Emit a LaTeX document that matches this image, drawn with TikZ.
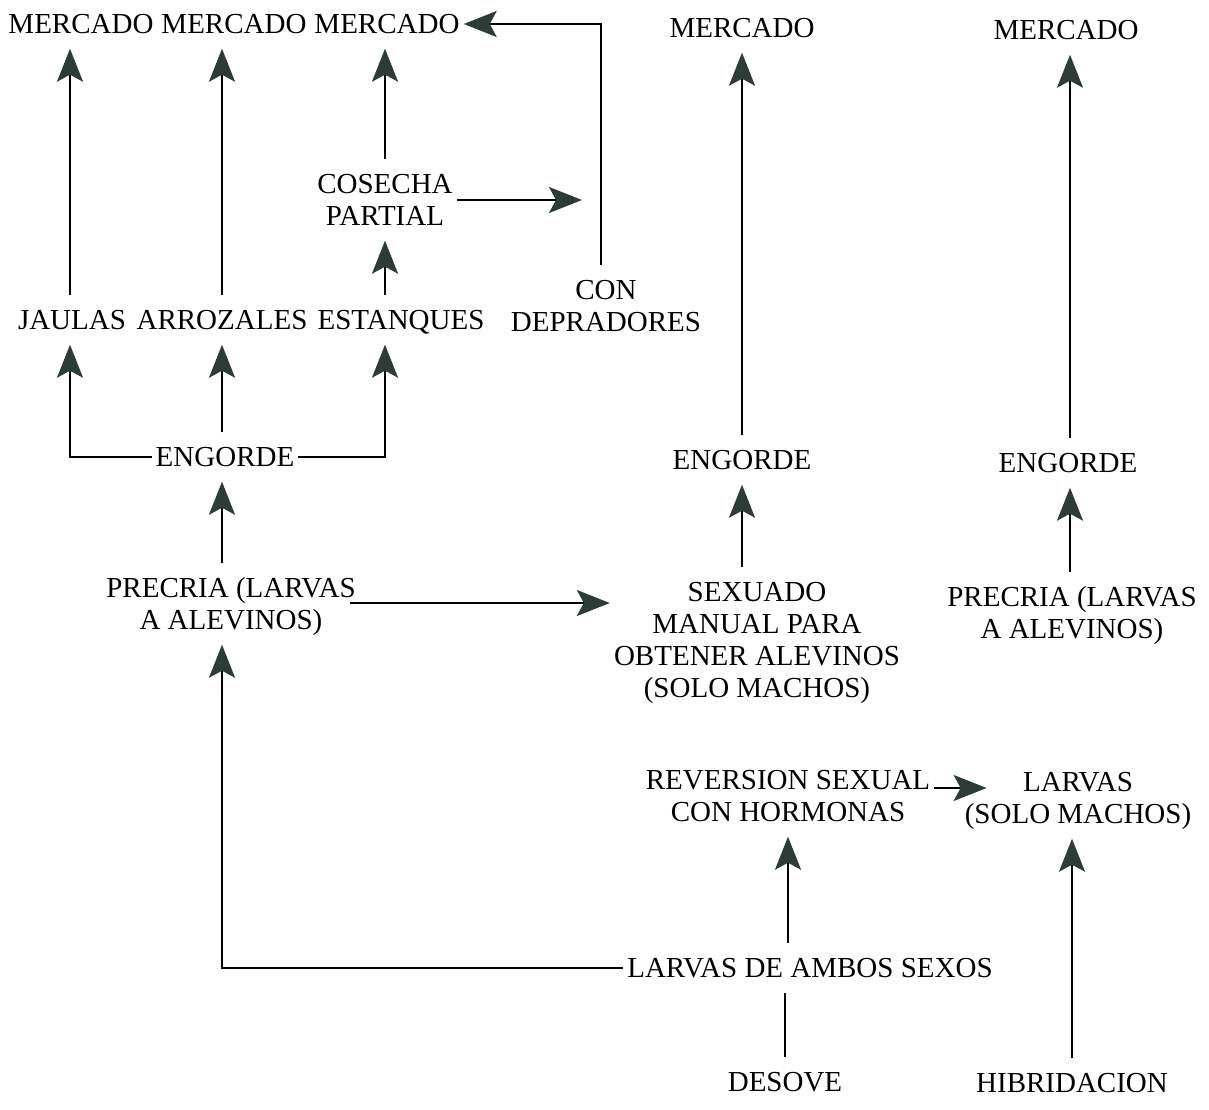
\documentclass[tikz,border=0pt]{standalone}
\usepackage{fontspec}
\setmainfont{Liberation Serif}
\usetikzlibrary{arrows.meta}
\definecolor{arrowc}{HTML}{2E3C37}
\begin{document}
\begin{tikzpicture}[x=1pt,y=-1pt,
  lbl/.style={font=\fontsize{29}{32}\selectfont, align=center, inner xsep=4pt, inner ysep=15pt, text height=19pt, text depth=0pt},
  two/.style={text height=51pt},
  four/.style={text height=115pt},
  conn/.style={line width=2.2pt, black},
  arr/.style={conn, -{Stealth[length=33pt,width=26pt,inset=7pt,fill=arrowc,color=arrowc]}}]
\useasboundingbox[fill=white] (0,0) rectangle (1209,1110);
% nodes
\node[lbl] (m1) at (81,24) {MERCADO};
\node[lbl] (m2) at (234,24) {MERCADO};
\node[lbl] (m3) at (387,24) {MERCADO};
\node[lbl] (m4) at (742,28) {MERCADO};
\node[lbl] (m5) at (1066,30) {MERCADO};
\node[lbl,two] (cos) at (385,200) {COSECHA\\PARTIAL};
\node[lbl,two] (con) at (606,306) {CON\\DEPRADORES};
\node[lbl] (jau) at (72,320) {JAULAS};
\node[lbl] (arr) at (222,320) {ARROZALES};
\node[lbl] (est) at (401,320) {ESTANQUES};
\node[lbl] (eng1) at (225,457) {ENGORDE};
\node[lbl] (eng2) at (742,460) {ENGORDE};
\node[lbl] (eng3) at (1068,463) {ENGORDE};
\node[lbl,two] (pre1) at (231,604) {PRECRIA (LARVAS\\A ALEVINOS)};
\node[lbl,four] (sex) at (757,640) {SEXUADO\\MANUAL PARA\\OBTENER ALEVINOS\\(SOLO MACHOS)};
\node[lbl,two] (pre3) at (1072,613) {PRECRIA (LARVAS\\A ALEVINOS)};
\node[lbl,two] (rev) at (788,796) {REVERSION SEXUAL\\CON HORMONAS};
\node[lbl,two] (lar) at (1078,798) {LARVAS\\(SOLO MACHOS)};
\node[lbl] (amb) at (810,968) {LARVAS DE AMBOS SEXOS};
\node[lbl] (des) at (785,1082) {DESOVE};
\node[lbl] (hib) at (1072,1083) {HIBRIDACION};
\coordinate (cosend) at (582,200);
\coordinate (prestart) at (350,603);
% connectors
\draw[arr] (jau.north -| 70,0) -- (m1.south -| 70,0);
\draw[arr] (arr.north) -- (m2.south -| arr.north);
\draw[arr] (cos.north) -- (m3.south -| cos.north);
\draw[arr] (con.north -| 601,0) |- (m3.east);
\draw[arr] (cos.east) -- (cosend);
\draw[arr] (est.north -| cos.south) -- (cos.south);
\draw[arr] (eng1.west) -| (jau.south -| 70,0);
\draw[arr] (eng1.north -| arr.south) -- (arr.south);
\draw[arr] (eng1.east) -| (est.south -| cos.south);
\draw[arr] (pre1.north -| arr.south) -- (eng1.south -| arr.south);
\draw[arr] (prestart) -- (sex.west |- prestart);
\draw[arr] (sex.north -| eng2.south) -- (eng2.south);
\draw[arr] (eng2.north) -- (m4.south);
\draw[arr] (pre3.north -| 1070,0) -- (eng3.south -| 1070,0);
\draw[arr] (eng3.north -| 1070,0) -- (m5.south -| 1070,0);
\draw[arr, shorten >=-26pt] ([yshift=8pt]rev.east) -- ([yshift=8pt]rev.east -| lar.west);
\draw[arr] (amb.north -| rev.south) -- (rev.south);
\draw[arr] (amb.west) -| (pre1.south -| arr.south);
\draw[conn] (des.north) -- (amb.south -| des.north);
\draw[arr] (hib.north) -- (lar.south -| hib.north);
\end{tikzpicture}
\end{document}
